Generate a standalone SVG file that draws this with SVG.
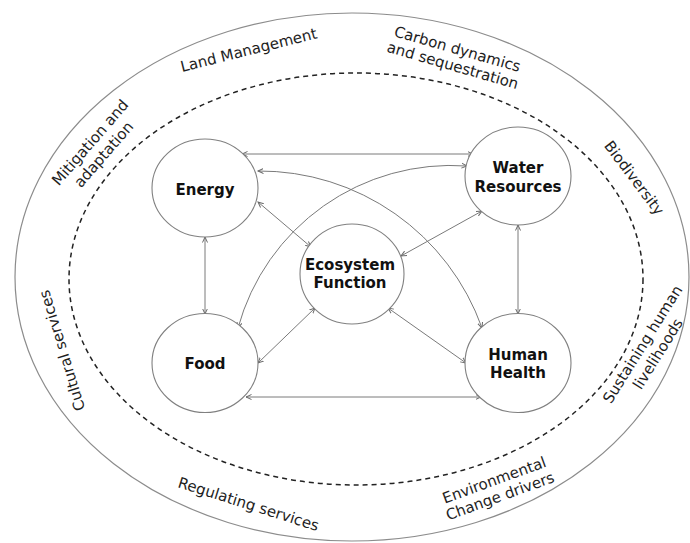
<svg xmlns="http://www.w3.org/2000/svg" width="690" height="543" viewBox="0 0 690 543">
<style>
.ring{font-family:"DejaVu Sans","Liberation Sans",sans-serif;font-size:15px;fill:#1e1e1e;text-anchor:middle}
.lbl{font-family:"DejaVu Sans","Liberation Sans",sans-serif;font-size:15px;font-weight:bold;fill:#111;text-anchor:middle}
.node{fill:#fff;stroke:#808080;stroke-width:1.1}
.con{fill:none;stroke:#7a7a7a;stroke-width:1;marker-start:url(#ah);marker-end:url(#ah)}
</style>
<defs>
<marker id="ah" markerUnits="userSpaceOnUse" markerWidth="8" markerHeight="8" refX="5.5" refY="2.5" orient="auto-start-reverse" viewBox="0 0 8 5">
<path d="M0,0 L5.5,2.5 L0,5" fill="none" stroke="#6a6a6a" stroke-width="1"/>
</marker>
</defs>
<rect width="690" height="543" fill="#fff"/>
<g id="rings">
<ellipse cx="352" cy="277" rx="337" ry="264" fill="none" stroke="#8c8c8c" stroke-width="1.2"/>
<ellipse cx="356" cy="279" rx="287" ry="206" fill="none" stroke="#222" stroke-width="1.5" stroke-dasharray="5,4"/>
</g>
<g id="ring-labels">
<text class="ring" transform="translate(250,55) rotate(-14)">Land Management</text>
<g transform="translate(456,54) rotate(16)"><text class="ring" x="0" y="0">Carbon dynamics</text><text class="ring" x="0" y="17">and sequestration</text></g>
<text class="ring" transform="translate(630,181) rotate(53)">Biodiversity</text>
<g transform="translate(94,146) rotate(-49)"><text class="ring" x="0" y="0">Mitigation and</text><text class="ring" x="0" y="18">adaptation</text></g>
<text class="ring" transform="translate(67,349) rotate(-107)">Cultural services</text>
<text class="ring" transform="translate(247,509) rotate(17.5)">Regulating services</text>
<g transform="translate(496,485) rotate(-20)"><text class="ring" x="0" y="0">Environmental</text><text class="ring" x="0" y="17">Change drivers</text></g>
<g transform="translate(647,347) rotate(-58)"><text class="ring" x="0" y="0">Sustaining human</text><text class="ring" x="0" y="18">livelihoods</text></g>
</g>
<g id="connectors">
<line class="con" x1="242" y1="154" x2="473" y2="154"/>
<path class="con" d="M258,171 A236,236 0 0,1 482,328"/>
<path class="con" d="M238,328 A221,221 0 0,1 467,166"/>
<line class="con" x1="258" y1="202" x2="311" y2="247"/>
<line class="con" x1="482" y1="211" x2="401" y2="256"/>
<line class="con" x1="258" y1="363" x2="315" y2="308"/>
<line class="con" x1="388" y1="308" x2="466" y2="363"/>
<line class="con" x1="205" y1="237" x2="205" y2="314"/>
<line class="con" x1="518" y1="225" x2="518" y2="314"/>
<line class="con" x1="246" y1="397" x2="481" y2="397"/>
</g>
<g id="energy"><ellipse class="node" cx="205" cy="188" rx="53" ry="49"/><text class="lbl" x="205" y="195">Energy</text></g>
<g id="water"><ellipse class="node" cx="518" cy="176" rx="53" ry="49"/><text class="lbl" x="518" y="173">Water</text><text class="lbl" x="518" y="192">Resources</text></g>
<g id="ecosystem"><ellipse class="node" cx="352" cy="274" rx="52" ry="50"/><text class="lbl" x="350" y="270">Ecosystem</text><text class="lbl" x="350" y="288">Function</text></g>
<g id="food"><ellipse class="node" cx="205" cy="363" rx="53" ry="49.5"/><text class="lbl" x="205" y="369">Food</text></g>
<g id="health"><ellipse class="node" cx="518" cy="363" rx="53" ry="49.5"/><text class="lbl" x="518" y="360">Human</text><text class="lbl" x="518" y="378">Health</text></g>
</svg>
